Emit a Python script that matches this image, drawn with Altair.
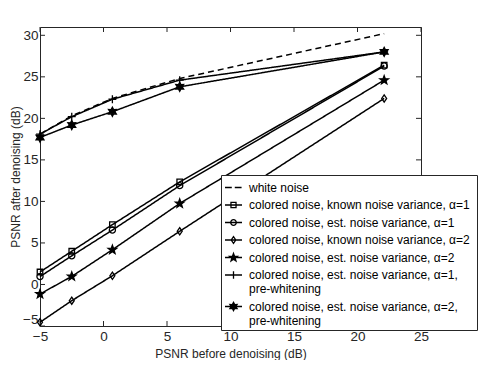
import altair as alt
import pandas as pd
import math

# ---- data ----
x_vals = [-5, -2.5, 0.7, 6, 22.1]
white_noise = [18.1, 20.3, 22.4, 24.8, 30.2]
known_a1 = [1.5, 4.0, 7.2, 12.35, 26.4]
est_a1 = [0.95, 3.45, 6.55, 11.9, 26.3]
known_a2 = [-4.55, -1.95, 1.05, 6.4, 22.4]
est_a2 = [-1.15, 0.97, 4.18, 9.75, 24.6]
pw_a1 = [18.1, 20.2, 22.3, 24.6, 28.0]
pw_a2 = [17.7, 19.2, 20.8, 23.8, 28.0]

series_names = [
    "white noise",
    "colored noise, known noise variance,  α=1",
    "colored noise, est. noise variance,  α=1",
    "colored noise, known noise variance,  α=2",
    "colored noise, est. noise variance,  α=2",
    "colored noise, est. noise variance,  α=1,|pre-whitening",
    "colored noise, est. noise variance,  α=2,|pre-whitening",
]
series_values = [white_noise, known_a1, est_a1, known_a2, est_a2, pw_a1, pw_a2]
marker_kind = ["none", "square", "circle", "diamond", "star", "plus", "hexagram"]
marker_fill = ["transparent", "transparent", "transparent", "transparent", "black", "transparent", "black"]
legend_fill = ["white", "white", "white", "white", "black", "white", "black"]
dash_styles = [[6, 4], [1, 0], [1, 0], [1, 0], [1, 0], [1, 0], [1, 0]]

x_ticks = [-5, 0, 5, 10, 15, 20, 25]
y_ticks = [-5, 0, 5, 10, 15, 20, 25, 30]

W, H = 381, 299
TXT = "#262626"
PT_SIZE = 121   # 11 px symbol box
LEG_SIZE = 289  # 17 px symbol box


def f(v):
    return f"{v:.3f}"


def marker_path(kind, s):
    if kind == "square":
        a = 0.5 * s
        return f"M{f(-a)},{f(-a)}H{f(a)}V{f(a)}H{f(-a)}Z"
    if kind == "circle":
        r = 0.56 * s
        return f"M{f(r)},0A{f(r)},{f(r)} 0 1,1 {f(-r)},0A{f(r)},{f(r)} 0 1,1 {f(r)},0Z"
    if kind == "diamond":
        w, h = 0.45 * s, 0.65 * s
        return f"M0,{f(-h)}L{f(w)},0L0,{f(h)}L{f(-w)},0Z"
    if kind == "plus":
        a = 0.72 * s
        return f"M{f(-a)},0H{f(a)}M0,{f(-a)}V{f(a)}"
    if kind in ("star", "hexagram"):
        n = 5 if kind == "star" else 6
        ro = 0.82 * s
        ri = (0.34 if n == 5 else 0.45) * s
        pts = []
        for i in range(2 * n):
            r = ro if i % 2 == 0 else ri
            ang = -math.pi / 2 + i * math.pi / n
            pts.append((r * math.cos(ang), r * math.sin(ang)))
        return "M" + "L".join(f"{f(px)},{f(py)}" for px, py in pts) + "Z"
    return "M0,0"


plot_paths = [marker_path(k, 1.0) for k in marker_kind]
leg_scale = math.sqrt(PT_SIZE) / math.sqrt(LEG_SIZE) * 0.92
legend_paths = []
for k in marker_kind:
    if k == "none":
        legend_paths.append("M-1,0H-0.2M0.15,0H0.95")
    else:
        legend_paths.append("M-1,0H1" + marker_path(k, leg_scale))

rows = []
for name, vals in zip(series_names, series_values):
    for xv, yv in zip(x_vals, vals):
        rows.append({"series": name, "x": xv, "y": yv})
df = pd.DataFrame(rows)
df_pts = df[df["series"] != "white noise"]
df_leg = pd.DataFrame({"series": series_names, "x": [x_vals[0]] * 7, "y": [series_values[i][0] for i in range(7)]})

xs = alt.Scale(domain=[-5, 25], nice=False, zero=False)
ys = alt.Scale(domain=[-5, 31], nice=False, zero=False)

x_axis = alt.Axis(values=x_ticks, title="PSNR before denoising (dB)", ticks=False, domain=False, grid=False,
                  labelFontSize=13.5, labelColor=TXT, labelPadding=3, titleFontSize=12, titleColor=TXT,
                  titleFontWeight="normal", titlePadding=6, labelFont="Liberation Sans", titleFont="Liberation Sans",
                  labelFlush=False)
y_axis = alt.Axis(values=y_ticks, title="PSNR after denoising (dB)", ticks=False, domain=False, grid=False,
                  labelFontSize=13.5, labelColor=TXT, labelPadding=2, titleFontSize=12, titleColor=TXT,
                  titleFontWeight="normal", titlePadding=0, labelFont="Liberation Sans", titleFont="Liberation Sans",
                  labelFlush=True)

lines = alt.Chart(df).mark_line(color="black", strokeWidth=1.5).encode(
    x=alt.X("x:Q", scale=xs, axis=x_axis),
    y=alt.Y("y:Q", scale=ys, axis=y_axis),
    detail="series:N",
    strokeDash=alt.StrokeDash("series:N", scale=alt.Scale(domain=series_names, range=dash_styles), legend=None),
)

points = alt.Chart(df_pts).mark_point(stroke="black", strokeWidth=1.3, size=PT_SIZE, opacity=1).encode(
    x=alt.X("x:Q", scale=xs),
    y=alt.Y("y:Q", scale=ys),
    shape=alt.Shape("series:N", scale=alt.Scale(domain=series_names, range=plot_paths), legend=None),
    fill=alt.Fill("series:N", scale=alt.Scale(domain=series_names, range=marker_fill), legend=None),
)

leg = dict(title=None, orient="none", legendX=181, legendY=148,
           labelExpr="split(datum.label, '|')", labelLimit=400,
           labelFontSize=12, labelFont="Liberation Sans", labelColor="black",
           symbolSize=LEG_SIZE, symbolStrokeWidth=1.3, symbolOpacity=1,
           labelOffset=6, rowPadding=1.5, padding=3,
           strokeColor=TXT, fillColor="white", cornerRadius=0)

legend_layer = alt.Chart(df_leg).mark_point(stroke="black", strokeWidth=1.3, size=LEG_SIZE, opacity=0).encode(
    x=alt.X("x:Q", scale=xs),
    y=alt.Y("y:Q", scale=ys),
    shape=alt.Shape("series:N", scale=alt.Scale(domain=series_names, range=legend_paths), legend=alt.Legend(**leg)),
    fill=alt.Fill("series:N", scale=alt.Scale(domain=series_names, range=legend_fill), legend=alt.Legend(**leg)),
)

tx = pd.DataFrame({"t": x_ticks})
ty = pd.DataFrame({"t": y_ticks})
tick_style = dict(color=TXT, strokeWidth=1)
xt_bottom = alt.Chart(tx).mark_rule(**tick_style).encode(x=alt.X("t:Q", scale=xs), y=alt.value(H), y2=alt.value(H - 5))
xt_top = alt.Chart(tx).mark_rule(**tick_style).encode(x=alt.X("t:Q", scale=xs), y=alt.value(0), y2=alt.value(5))
yt_left = alt.Chart(ty).mark_rule(**tick_style).encode(y=alt.Y("t:Q", scale=ys), x=alt.value(0), x2=alt.value(5))
yt_right = alt.Chart(ty).mark_rule(**tick_style).encode(y=alt.Y("t:Q", scale=ys), x=alt.value(W), x2=alt.value(W - 5))

chart = alt.layer(xt_bottom, xt_top, yt_left, yt_right, lines, points, legend_layer).resolve_scale(
    shape="independent", fill="independent"
).properties(
    width=W, height=H,
    autosize=alt.AutoSizeParams(type="none"),
    padding={"left": 32, "top": 19, "right": 62, "bottom": 34},
).configure(
    background="white",
    view=alt.ViewConfig(stroke=TXT, strokeWidth=1),
)

chart.save("out.html", embed_options={"renderer": "svg", "actions": False})
